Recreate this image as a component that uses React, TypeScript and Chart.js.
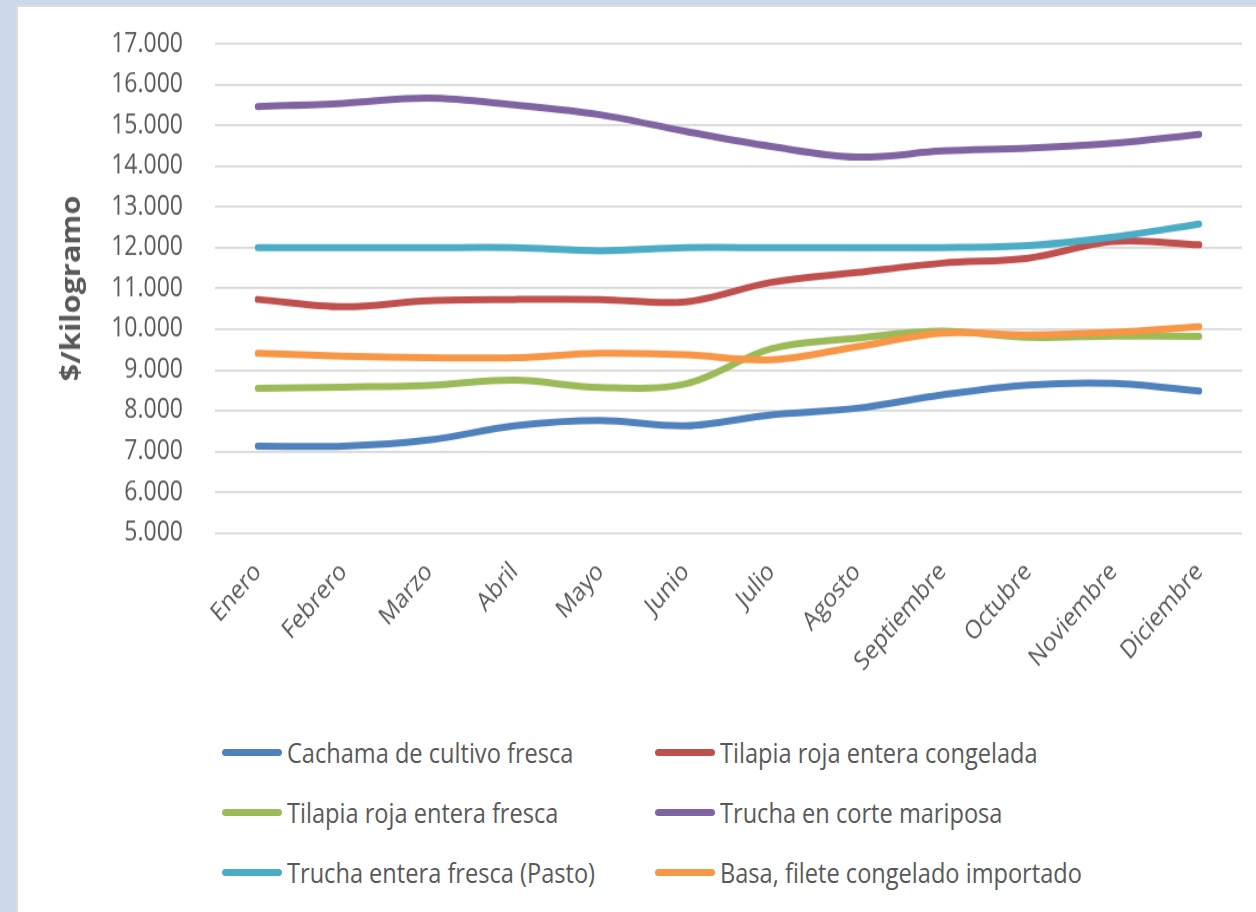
import React, { useEffect, useRef } from "react";
import { Chart, registerables } from "chart.js";

Chart.register(...registerables);

const months = [
  "Enero", "Febrero", "Marzo", "Abril", "Mayo", "Junio",
  "Julio", "Agosto", "Septiembre", "Octubre", "Noviembre", "Diciembre",
];

const cachamaCultivoFresca = [7130, 7130, 7280, 7630, 7760, 7630, 7900, 8060, 8390, 8630, 8670, 8480];
const tilapiaRojaCongelada = [10730, 10550, 10700, 10730, 10730, 10670, 11150, 11390, 11620, 11740, 12150, 12070];
const tilapiaRojaFresca = [8550, 8580, 8620, 8750, 8570, 8660, 9520, 9780, 9950, 9800, 9830, 9820];
const truchaCorteMariposa = [15460, 15540, 15670, 15500, 15260, 14850, 14480, 14220, 14370, 14440, 14560, 14780];
const truchaEnteraPasto = [12000, 12000, 12000, 12000, 11920, 12000, 12000, 12000, 12000, 12050, 12260, 12580];
const basaFileteImportado = [9410, 9340, 9300, 9300, 9410, 9370, 9250, 9570, 9900, 9860, 9920, 10060];

const seriesNames = [
  "Cachama de cultivo fresca",
  "Tilapia roja entera congelada",
  "Tilapia roja entera fresca",
  "Trucha en corte mariposa",
  "Trucha entera fresca (Pasto)",
  "Basa, filete congelado importado",
];
const seriesValues = [
  cachamaCultivoFresca,
  tilapiaRojaCongelada,
  tilapiaRojaFresca,
  truchaCorteMariposa,
  truchaEnteraPasto,
  basaFileteImportado,
];
const seriesColors = ["#4F81BD", "#C0504D", "#9BBB59", "#8064A2", "#4BACC6", "#F79646"];

const yMin = 5000;
const yMax = 17000;
const yStep = 1000;
const yTitle = "$/kilogramo";

const STRETCH = 1.18;
const CANVAS_W = 1238;
const CANVAS_H = 600;
const TEXT = "#595959";

function fmt(v: number): string {
  return String(Math.round(v)).replace(/\B(?=(\d{3})+(?!\d))/g, ".");
}

export default function App() {
  const ref = useRef<HTMLCanvasElement | null>(null);

  useEffect(() => {
    if (!ref.current) return;
    const datasets = seriesValues.map((vals, i) => ({
      label: seriesNames[i],
      data: vals,
      borderColor: seriesColors[i],
      backgroundColor: seriesColors[i],
      borderWidth: 6,
      pointRadius: 0,
      pointHoverRadius: 0,
      tension: 0.35,
      borderCapStyle: "round" as const,
      borderJoinStyle: "round" as const,
      fill: false,
      order: seriesNames.length - i,
    }));
    const chart = new Chart(ref.current, {
      type: "line",
      data: { labels: months, datasets },
      options: {
        responsive: false,
        animation: false,
        devicePixelRatio: 1,
        layout: { padding: { left: 0, right: 14, top: 32, bottom: 0 } },
        plugins: { legend: { display: false }, tooltip: { enabled: false } },
        scales: {
          x: {
            offset: true,
            grid: { display: false, drawTicks: false },
            border: { display: false },
            ticks: {
              autoSkip: false,
              minRotation: 45,
              maxRotation: 45,
              padding: 20,
              color: TEXT,
              font: { family: "'Open Sans'", size: 22 },
            },
            afterFit: (s: any) => {
              s.height = CANVAS_H - 446.6;
            },
          },
          y: {
            min: yMin,
            max: yMax,
            ticks: {
              stepSize: yStep,
              padding: 32,
              color: TEXT,
              font: { family: "'Open Sans'", size: 23 },
              callback: (v: any) => fmt(Number(v)),
            },
            grid: { color: "#d9d9d9", lineWidth: 1.7, drawTicks: false },
            border: { display: false },
            title: {
              display: true,
              text: yTitle,
              color: TEXT,
              font: { family: "'Open Sans'", size: 26, weight: "bold" },
              padding: { top: 39, bottom: 0 },
            },
            afterFit: (s: any) => {
              s.width = 197;
              s.paddingTop = 10;
              s.paddingBottom = 10;
            },
          },
        },
      },
    } as any);
    return () => chart.destroy();
  }, []);

  const rowY = [752, 812, 872];

  return (
    <div style={{ position: "fixed", left: 0, top: 0, width: 1256, height: 912, background: "#cdd9ea", overflow: "hidden" }}>
      <div
        style={{
          position: "absolute",
          left: 16,
          top: 5,
          right: 0,
          bottom: 0,
          background: "#ffffff",
          borderLeft: "2px solid #dcdcdc",
          borderTop: "2px solid #dcdcdc",
        }}
      />
      <div
        style={{
          position: "absolute",
          left: 18,
          top: 6,
          width: CANVAS_W,
          height: CANVAS_H,
          transform: `scaleY(${STRETCH})`,
          transformOrigin: "0 0",
        }}
      >
        <canvas ref={ref} width={CANVAS_W} height={CANVAS_H} style={{ width: CANVAS_W, height: CANVAS_H, display: "block" }} />
      </div>
      {seriesNames.map((name, i) => {
        const col = i % 2;
        const row = Math.floor(i / 2);
        const y = rowY[row];
        const lineLeft = col === 0 ? 222 : 655;
        const textLeft = col === 0 ? 287 : 720;
        return (
          <React.Fragment key={name}>
            <div
              style={{
                position: "absolute",
                left: lineLeft,
                top: y - 3,
                width: 60,
                height: 7,
                borderRadius: 3.5,
                background: seriesColors[i],
              }}
            />
            <div
              style={{
                position: "absolute",
                left: textLeft,
                top: y - 20,
                height: 40,
                lineHeight: "40px",
                fontFamily: "'Open Sans'",
                fontSize: 23.6,
                color: TEXT,
                whiteSpace: "nowrap",
                transform: `scaleY(${STRETCH})`,
                transformOrigin: "0 50%",
              }}
            >
              {name}
            </div>
          </React.Fragment>
        );
      })}
    </div>
  );
}
